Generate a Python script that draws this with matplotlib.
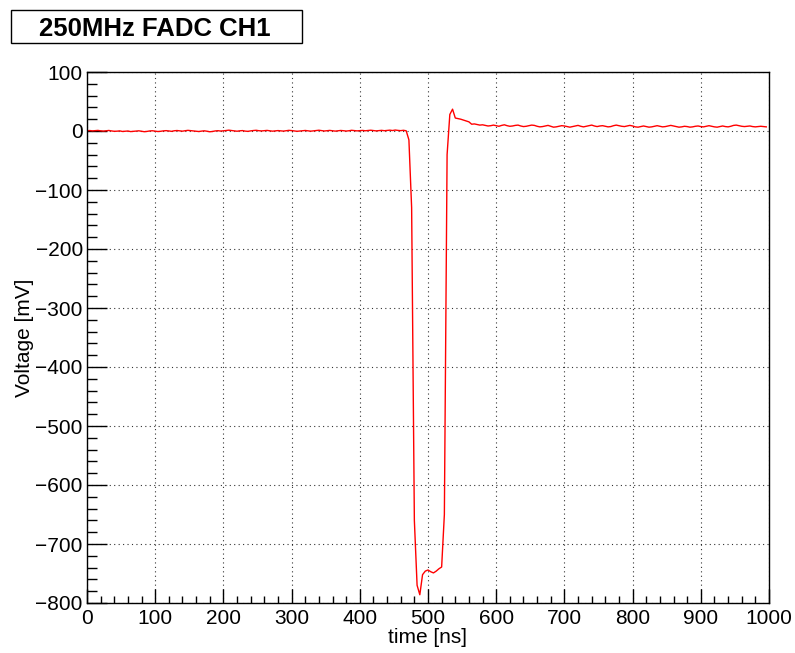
import numpy as np
import matplotlib.pyplot as plt
from matplotlib.patches import Rectangle
from matplotlib.ticker import MultipleLocator

plt.rcParams['font.family'] = ['Liberation Sans', 'DejaVu Sans']

# 250 MHz sampling -> one sample every 4 ns
sample_ns = 4

baseline_pre = [
    0.5, 0.8, 0.2, 0.6, 1.0, 0.3, -0.2, 0.4, 0.9, 0.1,
    -0.5, -0.3, 0.2, -0.8, -0.4, 0.0, -1.0, -0.6, -0.2, 0.3,
    -0.4, -1.2, -0.7, 0.1, 0.4, -0.2, -0.9, -0.5, 0.2, 0.6,
    0.1, -0.6, 0.4, 0.8, 0.2, -0.3, 0.5, 1.1, 0.6, 0.0,
    -0.5, -0.9, -0.2, 0.3, -0.4, -1.3, -0.8, 0.1, 0.5, -0.1,
    0.3, 0.9, 1.4, 0.8, 0.2, -0.4, 0.3, 0.7, -0.2, -0.6,
    0.2, 0.8, 1.2, 0.5, 0.1, 0.6, 1.0, 0.4, -0.3, 0.2,
    0.7, 0.3, -0.2, 0.5, 1.1, 0.7, 0.1, -0.5, -0.1, 0.4,
    0.9, 0.3, -0.3, 0.2, 0.8, 1.3, 0.6, 0.0, 0.5, 1.0,
    0.4, -0.2, 0.3, 0.9, 0.5, -0.1, 0.4, 1.2, 0.7, 0.2,
    0.6, 1.0, 0.4, 0.8, 1.3, 0.7, 0.2, 0.6, 1.1, 0.5,
    0.9, 1.4, 0.8, 1.6, 1.0, 0.6, 1.2, 0.4,
]

pulse = [
    -15, -130, -660, -770, -786, -752, -746, -744, -747, -749,
    -746, -742, -739, -650, -40, 28, 37, 22, 21,
]

baseline_post = [
    20, 18.5, 17, 15.5, 11.5, 12, 11, 10, 10.5, 9.5,
    8.5, 9, 10, 9, 8, 9.5, 10.5, 9, 8, 8.5,
    9.5, 10, 8.5, 7.5, 8, 9, 10, 9.5, 8, 7,
    7.5, 8.5, 9.5, 8, 6.5, 7, 8, 9, 8.5, 7.5,
    6.5, 7.5, 8.5, 9.5, 8, 7, 8, 9, 10, 8.5,
    7.5, 8.5, 9, 8, 7, 7.5, 9, 10, 9, 8,
    7.5, 8.5, 9.5, 8.5, 7, 6.5, 7.5, 8.5, 7.5, 6.5,
    7, 8, 9, 8, 7, 7.5, 8.5, 9.5, 8.5, 7.5,
    6.5, 7, 8, 7.5, 6.5, 7, 8, 8.5, 7.5, 7,
    8, 9, 8, 7, 6.5, 7.5, 8.5, 7.5, 7, 8,
    9.5, 10, 9, 8, 7.5, 8, 8.5, 7.5, 7, 7.5,
    8, 7.5, 7,
]

voltage = baseline_pre + pulse + baseline_post
time = np.arange(len(voltage)) * sample_ns

W, H = 795, 653
fig = plt.figure(figsize=(W / 100, H / 100), dpi=100)
ax = fig.add_axes([87 / W, 1 - 603 / H, (769 - 87) / W, (603 - 72) / H])

ax.plot(time, voltage, color='red', lw=1.0)

ax.set_xlim(0, 1000)
ax.set_ylim(-800, 100)
ax.xaxis.set_major_locator(MultipleLocator(100))
ax.xaxis.set_minor_locator(MultipleLocator(20))
ax.yaxis.set_major_locator(MultipleLocator(100))
ax.yaxis.set_minor_locator(MultipleLocator(20))

ax.grid(True, which='major', color='black', linestyle=(0, (1, 3)), lw=0.8, alpha=0.8)
ax.tick_params(axis='both', which='both', direction='in', labelsize=15,
               top=False, right=False, width=1)
ax.tick_params(axis='x', which='major', length=10, pad=4)
ax.tick_params(axis='x', which='minor', length=5)
ax.tick_params(axis='y', which='major', length=14.4, pad=3)
ax.tick_params(axis='y', which='minor', length=7.2)
for s in ax.spines.values():
    s.set_linewidth(1.0)

ax.set_xlabel('time [ns]', fontsize=15, labelpad=0)
ax.set_ylabel('Voltage [mV]', fontsize=15, labelpad=1)

# title box in figure pixels: x 11..302, y 10..43
fig.patches.append(Rectangle((11 / W, 1 - 43 / H), 291 / W, 33 / H,
                             transform=fig.transFigure, fc='white', ec='black', lw=1.0))
fig.text(155 / W, 1 - 29 / H, '250MHz FADC CH1', fontsize=18.5, fontweight='bold',
         ha='center', va='center')

fig.savefig('out.png', dpi=100)
